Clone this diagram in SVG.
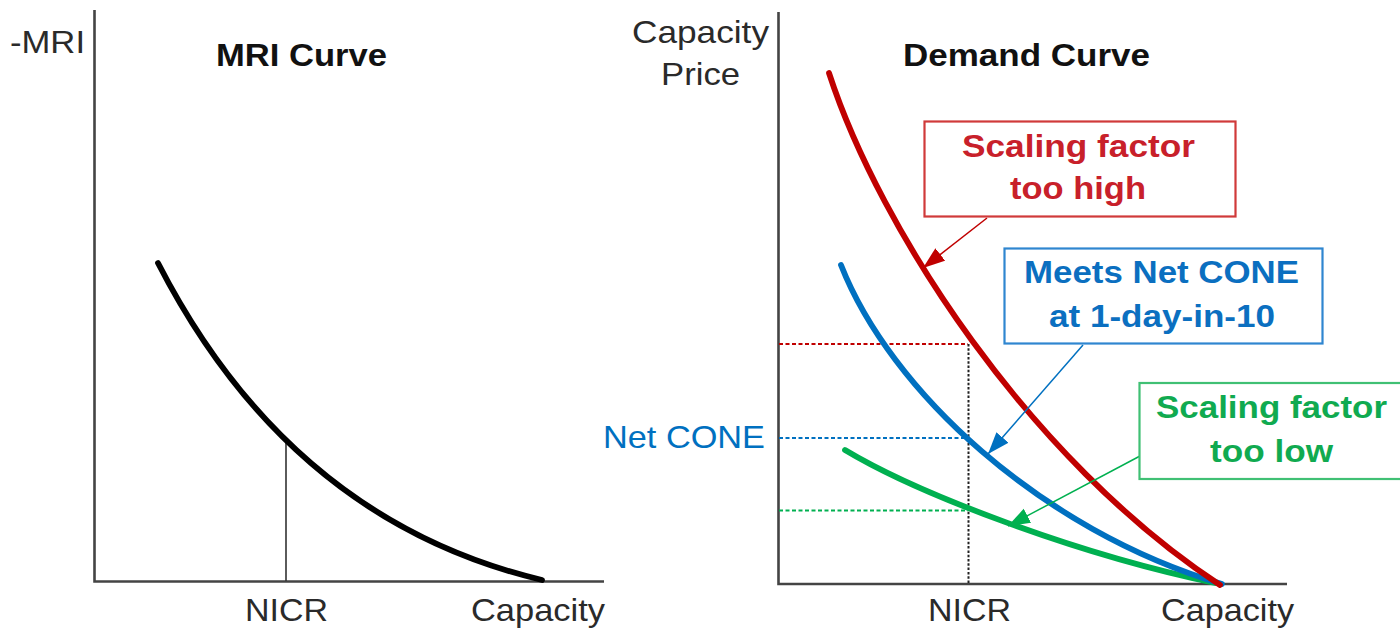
<svg xmlns="http://www.w3.org/2000/svg" width="1400" height="629" viewBox="0 0 1400 629">
<style>
text{font-family:"Liberation Sans",Arial,sans-serif;}
.ax{stroke:#444;stroke-width:2.6;fill:none;}
.lbl{font-size:32px;fill:#2a2a2a;}
.ttl{font-size:31px;font-weight:bold;fill:#111;}
.bl{font-size:31px;font-weight:bold;}
.curve{fill:none;stroke-width:5.8;stroke-linecap:round;}
.box{fill:#fff;stroke-width:2.2;}
.dash{fill:none;stroke-width:2;stroke-dasharray:4 2.5;}
</style>
<defs>
<marker id="ahR" markerUnits="userSpaceOnUse" markerWidth="24" markerHeight="18" refX="22" refY="8" orient="auto"><path d="M0,0 L22,8 L0,16 Z" fill="#C00000"/></marker>
<marker id="ahB" markerUnits="userSpaceOnUse" markerWidth="24" markerHeight="18" refX="22" refY="8" orient="auto"><path d="M0,0 L22,8 L0,16 Z" fill="#0070C0"/></marker>
<marker id="ahG" markerUnits="userSpaceOnUse" markerWidth="24" markerHeight="18" refX="22" refY="8" orient="auto"><path d="M0,0 L22,8 L0,16 Z" fill="#00B050"/></marker>
</defs>
<rect width="1400" height="629" fill="#fff"/>

<g id="mri-chart">
<path class="ax" d="M94.5,10 V581.5 H604"/>
<line x1="286" y1="440" x2="286" y2="581" stroke="#333" stroke-width="1.6"/>
<path class="curve" stroke="#000" d="M158,263 Q290,520 542,580"/>
<text class="lbl" x="10" y="53" textLength="75" lengthAdjust="spacingAndGlyphs">-MRI</text>
<text class="ttl" x="216" y="66" textLength="171" lengthAdjust="spacingAndGlyphs">MRI Curve</text>
<text class="lbl" x="245" y="621" textLength="83" lengthAdjust="spacingAndGlyphs">NICR</text>
<text class="lbl" x="471" y="621" textLength="134" lengthAdjust="spacingAndGlyphs">Capacity</text>
</g>

<g id="demand-chart">
<path class="ax" d="M778.5,12 V584 H1287"/>
<text class="lbl" x="632" y="43" textLength="137" lengthAdjust="spacingAndGlyphs">Capacity</text>
<text class="lbl" x="661" y="85" textLength="79" lengthAdjust="spacingAndGlyphs">Price</text>
<text class="ttl" x="903" y="66" textLength="247" lengthAdjust="spacingAndGlyphs">Demand Curve</text>
<text class="lbl" x="928" y="621" textLength="83" lengthAdjust="spacingAndGlyphs">NICR</text>
<text class="lbl" x="1161" y="621" textLength="133" lengthAdjust="spacingAndGlyphs">Capacity</text>
<text class="lbl" x="603" y="448" textLength="162" lengthAdjust="spacingAndGlyphs" style="fill:#0070C0">Net CONE</text>
<line class="dash" x1="779" y1="344" x2="968" y2="344" stroke="#C00000"/>
<line class="dash" x1="779" y1="438" x2="968" y2="438" stroke="#0070C0"/>
<line class="dash" x1="779" y1="510.5" x2="968" y2="510.5" stroke="#00B050"/>
<line x1="968.5" y1="344" x2="968.5" y2="583" stroke="#222" stroke-width="2" stroke-dasharray="2.5 1.8"/>
<path class="curve" stroke="#00B050" d="M845,450 C920,495 1080,555 1215,583"/>
<path class="curve" stroke="#0070C0" d="M841,265 C890,390 1040,530 1222,584"/>
<path class="curve" stroke="#C00000" d="M829,73 C880,230 1030,460 1220,585"/>
</g>

<g id="connectors">
<line x1="987" y1="218" x2="923" y2="268" stroke="#C00000" stroke-width="1.5" marker-end="url(#ahR)"/>
<line x1="1083" y1="345" x2="988" y2="454" stroke="#0070C0" stroke-width="1.5" marker-end="url(#ahB)"/>
<line x1="1140" y1="456" x2="1008" y2="526" stroke="#00B050" stroke-width="1.5" marker-end="url(#ahG)"/>
</g>

<g id="box-high">
<rect class="box" x="924.5" y="121.5" width="311" height="95" stroke="#D03A3A"/>
<text class="bl" x="962" y="157" textLength="233" lengthAdjust="spacingAndGlyphs" fill="#C8202A">Scaling factor</text>
<text class="bl" x="1010" y="199" textLength="136" lengthAdjust="spacingAndGlyphs" fill="#C8202A">too high</text>
</g>

<g id="box-meets">
<rect class="box" x="1004.5" y="248.5" width="318" height="95" stroke="#2F86D0"/>
<text class="bl" x="1024" y="283" textLength="275" lengthAdjust="spacingAndGlyphs" fill="#0B6FC0">Meets Net CONE</text>
<text class="bl" x="1049" y="327" textLength="226" lengthAdjust="spacingAndGlyphs" fill="#0B6FC0">at 1-day-in-10</text>
</g>

<g id="box-low">
<rect class="box" x="1139.5" y="383" width="280" height="96" stroke="#40C074"/>
<text class="bl" x="1156" y="418" textLength="231" lengthAdjust="spacingAndGlyphs" fill="#10AA50">Scaling factor</text>
<text class="bl" x="1210" y="462" textLength="123" lengthAdjust="spacingAndGlyphs" fill="#10AA50">too low</text>
</g>
</svg>
